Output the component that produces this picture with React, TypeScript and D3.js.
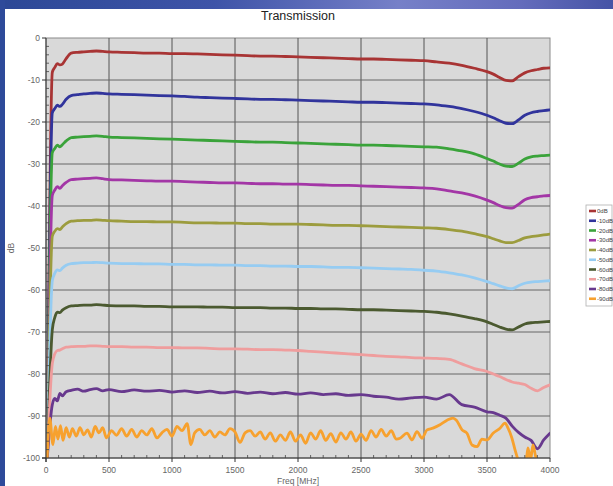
import React from 'react';
import * as d3 from 'd3';

// Frequency grid (MHz) shared by the smooth series
const freqs = [
  10, 50, 70, 90, 110, 130, 160, 200, 250, 300, 350, 400, 450, 500,
  600, 700, 800, 900, 1000, 1100, 1200, 1300, 1400, 1500,
  1600, 1700, 1800, 1900, 2000, 2100, 2200, 2300, 2400, 2500,
  2600, 2700, 2800, 2900, 3000, 3100, 3200, 3300, 3400, 3500,
  3550, 3600, 3650, 3700, 3750, 3800, 3850, 3900, 3950, 4000,
];

const s0dB = [
  -100, -8.2, -7.0, -6.1, -6.4, -6.2, -4.9, -3.6, -3.4, -3.3, -3.2, -3.1, -3.2, -3.3,
  -3.4, -3.5, -3.6, -3.6, -3.7, -3.7, -3.8, -3.9, -4.0, -4.1,
  -4.2, -4.3, -4.3, -4.4, -4.5, -4.6, -4.7, -4.8, -4.9, -5.0,
  -5.0, -5.1, -5.2, -5.3, -5.4, -5.7, -6.0, -6.5, -7.2, -8.0,
  -8.6, -9.4, -10.1, -10.2, -9.2, -8.3, -7.8, -7.5, -7.2, -7.1,
];
const s10dB = [
  -100, -17.8, -16.8, -16.0, -16.3, -15.8, -14.6, -13.7, -13.5, -13.3, -13.2, -13.1, -13.2, -13.3,
  -13.4, -13.5, -13.6, -13.7, -13.8, -13.9, -14.1, -14.2, -14.3, -14.4,
  -14.5, -14.6, -14.6, -14.7, -14.8, -14.9, -15.0, -15.1, -15.2, -15.3,
  -15.3, -15.4, -15.5, -15.6, -15.7, -15.9, -16.3, -16.8, -17.5, -18.4,
  -19.0, -19.7, -20.3, -20.4, -19.5, -18.4, -17.8, -17.5, -17.3, -17.1,
];
const s20dB = [
  -100, -27.3, -26.3, -25.5, -25.9, -25.4, -24.5, -23.7, -23.6, -23.5, -23.4, -23.3, -23.4, -23.6,
  -23.7, -23.8, -23.9, -24.0, -24.1, -24.2, -24.3, -24.4, -24.5, -24.6,
  -24.7, -24.8, -24.8, -24.9, -25.0, -25.1, -25.2, -25.3, -25.4, -25.5,
  -25.5, -25.6, -25.7, -25.8, -25.9, -26.0, -26.4, -26.9, -27.6, -28.7,
  -29.3, -30.0, -30.5, -30.6, -29.8, -28.8, -28.3, -28.1, -28.0, -27.9,
];
const s30dB = [
  -100, -37.5, -36.2, -35.4, -35.8, -35.2, -34.4, -33.7, -33.6, -33.5, -33.4, -33.3, -33.5, -33.7,
  -33.8, -33.9, -34.0, -34.1, -34.1, -34.2, -34.3, -34.4, -34.5, -34.5,
  -34.6, -34.7, -34.7, -34.8, -34.8, -34.9, -35.0, -35.1, -35.1, -35.2,
  -35.3, -35.4, -35.5, -35.6, -35.7, -35.9, -36.4, -36.9, -37.6, -38.6,
  -39.2, -39.9, -40.4, -40.5, -39.6, -38.5, -38.0, -37.8, -37.6, -37.5,
];
const s40dB = [
  -100, -47.2, -46.0, -45.4, -45.6, -45.0, -44.2, -43.6, -43.5, -43.4, -43.4, -43.3, -43.4, -43.5,
  -43.6, -43.7, -43.7, -43.8, -43.8, -43.9, -44.0, -44.0, -44.1, -44.1,
  -44.2, -44.2, -44.3, -44.3, -44.3, -44.4, -44.5, -44.6, -44.6, -44.7,
  -44.8, -44.9, -45.0, -45.1, -45.2, -45.3, -45.6, -46.0, -46.6, -47.3,
  -47.8, -48.3, -48.7, -48.7, -48.2, -47.6, -47.3, -47.1, -46.9, -46.7,
];
const s50dB = [
  -100, -57.8, -56.0, -55.2, -55.4, -54.8, -54.1, -53.7, -53.6, -53.5, -53.5, -53.4, -53.5, -53.6,
  -53.7, -53.7, -53.8, -53.8, -53.9, -53.9, -54.0, -54.0, -54.1, -54.1,
  -54.2, -54.2, -54.3, -54.3, -54.4, -54.4, -54.5, -54.6, -54.6, -54.7,
  -54.8, -54.9, -55.0, -55.1, -55.3, -55.5, -55.9, -56.4, -57.1, -58.0,
  -58.5, -59.0, -59.5, -59.7, -59.0, -58.4, -58.1, -58.0, -57.9, -57.8,
];
const s60dB = [
  -100, -69.5, -66.5, -65.3, -65.4, -64.8, -64.2, -63.8, -63.7, -63.6, -63.6, -63.5, -63.6, -63.7,
  -63.8, -63.8, -63.9, -63.9, -64.0, -64.0, -64.0, -64.1, -64.1, -64.2,
  -64.2, -64.2, -64.3, -64.3, -64.4, -64.4, -64.5, -64.5, -64.6, -64.7,
  -64.7, -64.8, -64.9, -65.0, -65.1, -65.3, -65.7, -66.2, -66.8, -67.6,
  -68.2, -68.8, -69.3, -69.5, -68.8, -68.1, -67.8, -67.7, -67.6, -67.5,
];
const s70dB = [
  -100, -77.5, -75.2, -74.4, -74.3, -74.0, -73.6, -73.5, -73.4, -73.4, -73.3, -73.3, -73.4, -73.5,
  -73.5, -73.6, -73.6, -73.7, -73.7, -73.8, -73.8, -73.9, -74.0, -74.0,
  -74.1, -74.2, -74.2, -74.3, -74.4, -74.6, -74.8, -75.0, -75.2, -75.4,
  -75.6, -75.8, -75.9, -76.1, -76.2, -76.3, -76.5, -77.6, -78.7, -79.4,
  -80.0, -80.6, -81.3, -81.9, -82.2, -82.5, -83.4, -84.0, -83.2, -82.6,
];
const s80dB = [
  -100, -87.3, -85.8, -86.4, -84.6, -85.2, -84.2, -83.9, -83.6, -84.1, -83.7, -83.5, -84.0, -83.7,
  -84.2, -83.8, -84.1, -83.9, -84.3, -84.0, -84.4, -84.1, -84.5, -84.2,
  -84.6, -84.3, -84.7, -84.4, -84.8, -84.5, -84.9, -84.7, -85.1, -84.9,
  -85.3, -85.5, -86.0, -85.7, -85.5, -86.0, -84.9, -87.3, -87.9, -89.0,
  -89.2, -89.8, -90.5, -92.4, -93.9, -95.0, -95.8, -97.8, -95.7, -94.1,
];

// -90 dB trace is noisy: its own [MHz, dB] readings
const s90dB: [number, number][] = [
  [8, -101], [30, -90.5], [55, -96.8], [75, -92.5], [95, -95.5], [115, -92.3], [135, -95.8],
  [160, -92.8], [185, -95], [210, -93], [240, -94.8], [270, -92.8], [300, -94.5], [330, -93.3],
  [360, -95], [390, -92.5], [420, -94], [450, -92.8], [480, -95.2], [520, -93.5], [560, -94.6],
  [600, -93], [640, -94.8], [680, -93.2], [720, -95], [760, -93.5], [800, -94.5], [840, -93],
  [880, -95.2], [920, -94], [960, -93.2], [1000, -94.8], [1040, -92.5], [1080, -93.5],
  [1120, -91.8], [1150, -96.8], [1180, -94], [1220, -93.2], [1260, -94.5], [1300, -93.5],
  [1340, -95], [1380, -93.8], [1420, -94.5], [1460, -93], [1500, -93.8], [1540, -96.3],
  [1580, -94], [1620, -93.5], [1660, -94.8], [1700, -93.8], [1740, -95.5], [1780, -94],
  [1820, -96], [1860, -94.5], [1900, -95.8], [1940, -93.8], [1980, -96], [2020, -94.5],
  [2060, -96.5], [2100, -94], [2140, -95.5], [2180, -93.5], [2220, -95.8], [2260, -94.2],
  [2300, -96.2], [2340, -94], [2380, -95.5], [2420, -93.8], [2460, -96], [2500, -94.3],
  [2540, -95.8], [2580, -93.5], [2620, -95], [2660, -93.2], [2700, -94.8], [2740, -93.5],
  [2780, -95.5], [2810, -95.3], [2865, -94.1], [2905, -95.7], [2944, -93.7], [2984, -95.3],
  [3024, -93.3], [3071, -92.9], [3127, -92.1], [3183, -91.0], [3230, -90.5], [3257, -91.0],
  [3302, -93.3], [3341, -94.1], [3381, -96.9], [3421, -97.3], [3460, -95.5], [3500, -95.7],
  [3548, -94.1], [3603, -92.9], [3643, -91.7], [3667, -92.9], [3698, -95.3], [3722, -98],
  [3746, -100.4], [3780, -103], [3810, -101], [3825, -97.6], [3845, -100.5], [3865, -96.9],
  [3885, -99.5], [3905, -101.5], [3940, -104], [4000, -106],
];

const seriesNames = ['0dB', '-10dB', '-20dB', '-30dB', '-40dB', '-50dB', '-60dB', '-70dB', '-80dB', '-90dB'];
const seriesColors = ['#a83434', '#31349c', '#3aa33a', '#a336a6', '#9c9c3e', '#96ccf2', '#4b5a30', '#ef9d9d', '#68398e', '#f7a12e'];
const smoothSeries = [s0dB, s10dB, s20dB, s30dB, s40dB, s50dB, s60dB, s70dB, s80dB];

const xTicks = [0, 500, 1000, 1500, 2000, 2500, 3000, 3500, 4000];
const yTicks = [0, -10, -20, -30, -40, -50, -60, -70, -80, -90, -100];

const FONT = '"Liberation Sans", Arial, sans-serif';

export default function App() {
  const W = 613, H = 486;
  const left = 46, right = 550, top = 38, bottom = 458;
  const x = d3.scaleLinear().domain([0, 4000]).range([left, right]);
  const y = d3.scaleLinear().domain([-100, 0]).range([bottom, top]);

  const line = d3.line<[number, number]>()
    .x(d => x(d[0]))
    .y(d => y(d[1]))
    .curve(d3.curveMonotoneX);

  const allSeries: [number, number][][] = smoothSeries.map(vals =>
    vals.map((v, i) => [freqs[i], v] as [number, number])
  );
  allSeries.push(s90dB);

  const xMinor = d3.range(0, 4001, 100).filter(v => v % 500 !== 0);
  const yMinor = d3.range(-100, 1, 2).filter(v => v % 10 !== 0);

  const legX = 586, legY = 205, legStep = 9.75;

  return (
    <svg width={W} height={H} style={{ position: 'absolute', left: 0, top: 0, display: 'block' }}>
      <defs>
        <linearGradient id="topband" x1="0" x2="1" y1="0" y2="0">
          <stop offset="0" stopColor="#2c4896" />
          <stop offset="0.35" stopColor="#3e54a8" />
          <stop offset="0.65" stopColor="#7680c8" />
          <stop offset="0.85" stopColor="#646cbc" />
          <stop offset="1" stopColor="#4654a6" />
        </linearGradient>
        <clipPath id="plotclip">
          <rect x={left} y={top} width={right - left} height={bottom - top} />
        </clipPath>
      </defs>
      <rect x={0} y={0} width={W} height={H} fill="#ffffff" />
      <rect x={0} y={0} width={W} height={9} fill="url(#topband)" />
      <rect x={0} y={0} width={5} height={H} fill="#2e4a9a" />

      <text x={298} y={20} textAnchor="middle" fontFamily={FONT} fontSize={12.5} fill="#222">Transmission</text>

      {/* plot background */}
      <rect x={left} y={top} width={right - left} height={bottom - top} fill="#d9d9d9" stroke="#8a8a8a" strokeWidth={1} />

      {/* grid */}
      {xTicks.slice(1, -1).map(t => (
        <line key={'gx' + t} x1={x(t)} x2={x(t)} y1={top} y2={bottom} stroke="#555" strokeWidth={1} />
      ))}
      {yTicks.slice(1, -1).map(t => (
        <line key={'gy' + t} x1={left} x2={right} y1={y(t)} y2={y(t)} stroke="#666" strokeWidth={1} />
      ))}

      {/* series */}
      <g clipPath="url(#plotclip)">
        {allSeries.map((pts, i) => (
          <path
            key={seriesNames[i]}
            d={line(pts) || ''}
            fill="none"
            stroke={seriesColors[i]}
            strokeWidth={2.8}
            strokeLinejoin="round"
            strokeLinecap="round"
          />
        ))}
      </g>

      {/* axes */}
      <line x1={left} x2={left} y1={top} y2={bottom + 4} stroke="#333" strokeWidth={1} />
      <line x1={left - 4} x2={right} y1={bottom} y2={bottom} stroke="#333" strokeWidth={1} />
      {xTicks.map(t => (
        <line key={'xt' + t} x1={x(t)} x2={x(t)} y1={bottom} y2={bottom + 4} stroke="#333" strokeWidth={1} />
      ))}
      {yTicks.map(t => (
        <line key={'yt' + t} x1={left - 4} x2={left} y1={y(t)} y2={y(t)} stroke="#333" strokeWidth={1} />
      ))}
      {xMinor.map(t => (
        <line key={'xm' + t} x1={x(t)} x2={x(t)} y1={bottom} y2={bottom - 3} stroke="#444" strokeWidth={0.8} />
      ))}
      {yMinor.map(t => (
        <line key={'ym' + t} x1={left} x2={left + 3} y1={y(t)} y2={y(t)} stroke="#444" strokeWidth={0.8} />
      ))}

      {xTicks.map(t => (
        <text key={'xl' + t} x={x(t)} y={bottom + 15} textAnchor="middle" fontFamily={FONT} fontSize={8.5} fill="#666">{t}</text>
      ))}
      {yTicks.map(t => (
        <text key={'yl' + t} x={left - 6} y={y(t) + 3} textAnchor="end" fontFamily={FONT} fontSize={8.5} fill="#666">{t}</text>
      ))}

      <text x={298} y={484} textAnchor="middle" fontFamily={FONT} fontSize={8.5} fill="#666">Freq [MHz]</text>
      <text transform={`translate(14,${(top + bottom) / 2}) rotate(-90)`} textAnchor="middle" fontFamily={FONT} fontSize={8.5} fill="#666">dB</text>

      {/* legend */}
      <rect x={legX} y={legY} width={26} height={101} fill="#ffffff" stroke="#b0b0b0" strokeWidth={0.8} />
      {seriesNames.map((n, i) => (
        <g key={'lg' + n}>
          <line x1={legX + 3} x2={legX + 10} y1={legY + 6 + i * legStep} y2={legY + 6 + i * legStep} stroke={seriesColors[i]} strokeWidth={2.6} />
          <text x={legX + 11} y={legY + 8 + i * legStep} fontFamily={FONT} fontSize={6} fill="#444">{n}</text>
        </g>
      ))}
    </svg>
  );
}
